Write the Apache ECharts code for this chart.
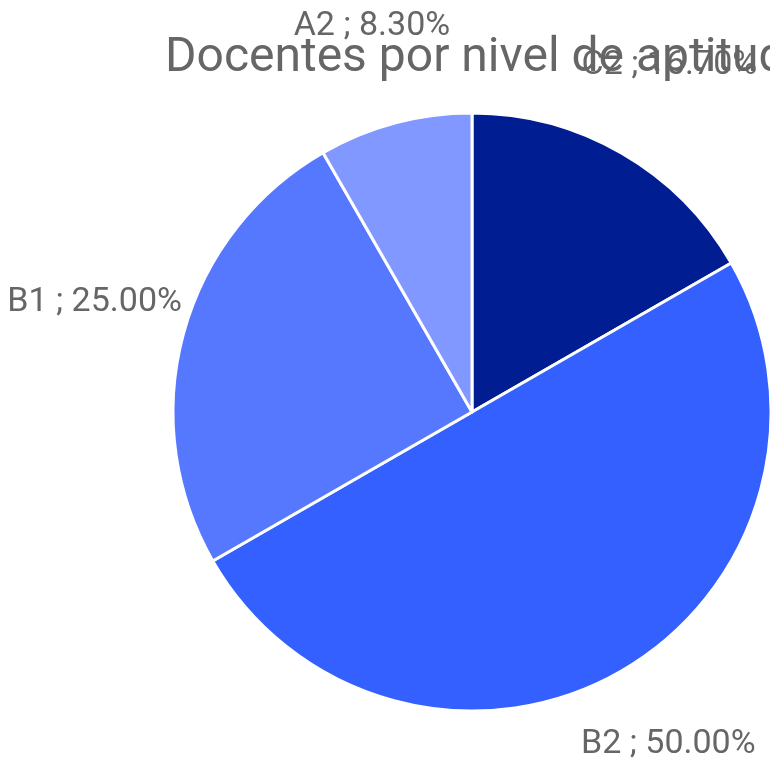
<!DOCTYPE html>
<html><head><meta charset="utf-8">
<script src="https://cdn.jsdelivr.net/npm/echarts@6/dist/echarts.min.js"></script>
<style>html,body{margin:0;padding:0;background:#fff;}#c{width:770px;height:762px;}</style>
</head><body><div id="c"></div>
<script>
const titleText = 'Docentes por nivel de aptitud';
const categories = ['C2', 'B2', 'B1', 'A2'];
const values = [16.7, 50.0, 25.0, 8.3];
const colors = ['#001e91', '#3360ff', '#5678ff', '#8098ff'];

const chart = echarts.init(document.getElementById('c'), null, {renderer: 'canvas'});
const data = categories.map((c, i) => ({name: c, value: values[i], itemStyle: {color: colors[i]}}));
const ghost = categories.map((c, i) => ({name: c, value: values[i]}));
chart.setOption({
  animation: false,
  title: {text: titleText, left: 160, top: 30,
    textStyle: {fontFamily: 'Roboto', fontSize: 48, fontWeight: 'normal', color: '#666666'}},
  series: [{
    type: 'pie', center: [472, 412], radius: [0, 299], startAngle: 90, clockwise: true,
    data: data, label: {show: false}, labelLine: {show: false},
    itemStyle: {borderColor: '#ffffff', borderWidth: 3}, silent: true
  }, {
    type: 'pie', center: [473, 405], radius: [372, 406], startAngle: 90, clockwise: true,
    data: ghost, silent: true,
    itemStyle: {color: 'rgba(0,0,0,0)'},
    label: {show: true, position: 'inside', fontFamily: 'Roboto', fontSize: 34, color: '#666666',
      formatter: p => p.name + ' ; ' + p.value.toFixed(2) + '%'},
    labelLine: {show: false}
  }]
});
</script></body></html>
